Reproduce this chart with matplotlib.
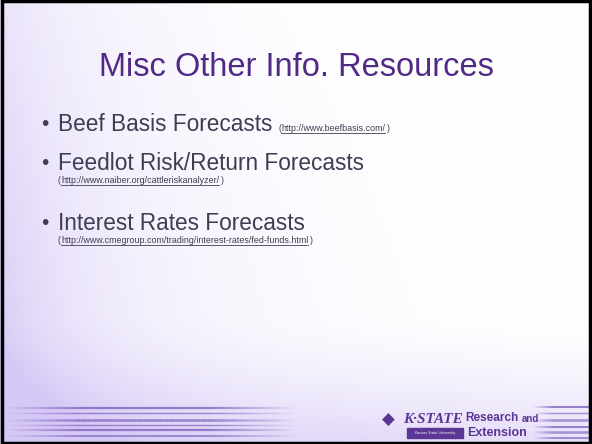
import numpy as np
import matplotlib
matplotlib.use('Agg')
import matplotlib.pyplot as plt
from matplotlib.collections import LineCollection
from matplotlib.patches import Rectangle

title = 'Misc Other Info. Resources'
bullets = ['Beef Basis Forecasts', 'Feedlot Risk/Return Forecasts', 'Interest Rates Forecasts']
links = ['http://www.beefbasis.com/', 'http://www.naiber.org/cattleriskanalyzer/',
         'http://www.cmegroup.com/trading/interest-rates/fed-funds.html']
inline_link = [True, False, False]  # link on same line as bullet or below
bullet_y = [124, 163, 223]

W, H = 592, 444
PURPLE = '#512a85'
LOGO = '#5a3795'
GREY = '#403c52'

fig = plt.figure(figsize=(W / 100, H / 100), dpi=100)
ax = fig.add_axes([0, 0, 1, 1])
ax.set_xlim(0, W)
ax.set_ylim(H, 0)
ax.axis('off')

# background: lavender towards left and bottom, white in the middle
xx, yy = np.meshgrid(np.linspace(0, 1, 300), np.linspace(0, 1, 225))
left = np.exp(-xx / 0.2) * (0.55 + 0.45 * yy)
bottom = np.clip((yy - 0.72) / 0.28, 0, 1) ** 1.5 * 0.6
t = np.clip(left * 0.9 + bottom + 0.12 * (1 - xx) * yy, 0, 1)
lav = np.array([214, 200, 246]) / 255.0
img = 1 - t[..., None] * (1 - lav)
ax.imshow(img, extent=[0, W, H, 0], aspect='auto', zorder=0)


def fade_line(x0, x1, y, lw, fade_in, fade_out, color=(0.52, 0.42, 0.76)):
    xs = np.linspace(x0, x1, 120)
    segs = [[(xs[i], y), (xs[i + 1], y)] for i in range(len(xs) - 1)]
    u = (xs[:-1] - x0) / (x1 - x0)
    a = np.ones_like(u)
    if fade_in:
        a *= np.clip(u / fade_in, 0, 1)
    if fade_out:
        a *= np.clip((1 - u) / fade_out, 0, 1)
    cols = [(color[0], color[1], color[2], v * 0.85) for v in a]
    ax.add_collection(LineCollection(segs, colors=cols, linewidths=lw, zorder=1))


# stripes at the bottom
for y, lw in zip([408, 413, 420, 425, 430, 436], [1.6, 1.0, 1.8, 1.0, 1.6, 1.2]):
    fade_line(4, 295, y, lw, 0.25, 0.3)
for y, lw in zip([407, 413, 420, 427, 432, 438], [1.4, 1.0, 1.8, 1.4, 1.8, 1.2]):
    fade_line(533, 590, y, lw, 0.35, 0)

# title
ax.text(W / 2, 76, title, ha='center', va='baseline', fontsize=23.5,
        family='Liberation Sans', color=PURPLE, zorder=3)

fig.canvas.draw()
rend = fig.canvas.get_renderer()
inv = ax.transData.inverted()


def right_edge(t):
    return inv.transform(t.get_window_extent(rend))[1][0]


LFS = 6.4


def link_text(x, y, url):
    t1 = ax.text(x, y, '(', fontsize=LFS, family='Liberation Sans', color=GREY,
                 va='baseline', zorder=3)
    x2 = right_edge(t1)
    t2 = ax.text(x2, y, url, fontsize=LFS, family='Liberation Sans', color=GREY,
                 va='baseline', zorder=3)
    x3 = right_edge(t2)
    ax.plot([x2, x3], [y + 1.6, y + 1.6], color=GREY, lw=0.6, zorder=3)
    ax.text(x3 + 2, y, ')', fontsize=LFS, family='Liberation Sans', color=GREY,
            va='baseline', zorder=3)


for label, url, inline, y in zip(bullets, links, inline_link, bullet_y):
    ax.text(45, y, '\u2022', fontsize=15, family='Liberation Sans', color=GREY,
            va='center', ha='center', zorder=3)
    t = ax.text(58, y, label, fontsize=16.3, family='Liberation Sans', color=GREY,
                va='center', zorder=3)
    if inline:
        link_text(right_edge(t) + 6, y + 7, url)
    else:
        link_text(58, y + 20, url)

# K-State Research and Extension logo
ax.text(382, 420, '\u25c6', fontsize=12, color=LOGO, va='center', ha='left', zorder=3)
ks = ax.text(403, 419, 'K\u00b7STATE', fontsize=11, family='Liberation Serif', style='italic',
             weight='bold', color=LOGO, va='center', ha='left', zorder=3)
ks_r = right_edge(ks)
ax.add_patch(Rectangle((407, 428), ks_r - 407, 10, color=LOGO, zorder=3))
ax.text((407 + ks_r) / 2, 433, 'Kansas State University', fontsize=2.4, color='white',
        ha='center', va='center', zorder=4)
rs = ax.text(ks_r + 3, 418, 'Research', fontsize=8.5, family='Liberation Sans', weight='bold',
             color=LOGO, va='center', ha='left', zorder=3)
ax.text(right_edge(rs) + 3, 419, 'and', fontsize=7, family='Liberation Sans', weight='bold',
        color=LOGO, va='center', ha='left', zorder=3)
ax.text(ks_r + 4, 433, 'Extension', fontsize=9, family='Liberation Sans', weight='bold',
        color=LOGO, va='center', ha='left', zorder=3)

# frame
ax.add_patch(Rectangle((1.5, 1), W - 4, H - 2, fill=False, edgecolor='black', lw=2.5, zorder=5))

fig.savefig('out.png', dpi=100)
